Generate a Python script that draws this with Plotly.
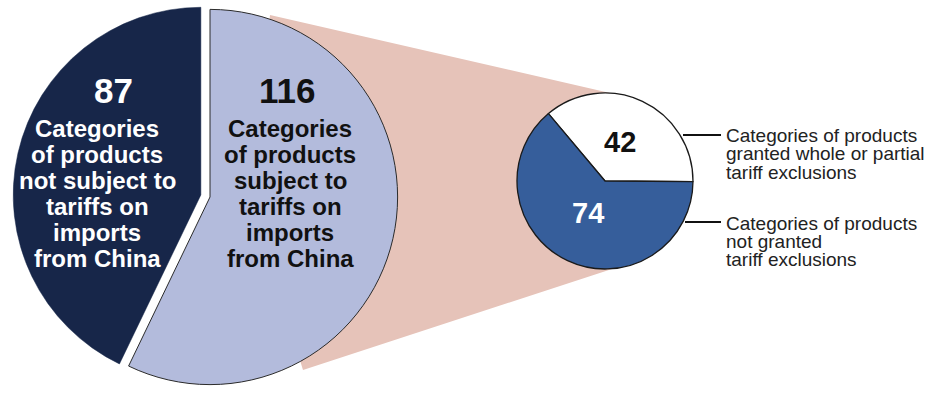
import plotly.graph_objects as go

# ---------------- data ----------------
main_labels = ["Subject to tariffs on imports from China",
               "Not subject to tariffs on imports from China"]
main_values = [116, 87]
main_colors = ["#b3bbdc", "#172649"]

sub_labels = ["Granted whole or partial tariff exclusions",
              "Not granted tariff exclusions"]
sub_values = [42, 74]
sub_colors = ["#ffffff", "#365e9b"]

left_text = ["Categories", "of products", "not subject to", "tariffs on", "imports", "from China"]
right_text = ["Categories", "of products", "subject to", "tariffs on", "imports", "from China"]
label_top = ["Categories of products", "granted whole or partial", "tariff exclusions"]
label_bottom = ["Categories of products", "not granted", "tariff exclusions"]

W, H = 931, 394
FONT = "Arial, Liberation Sans, sans-serif"

fig = go.Figure()

# invisible cartesian frame in pixel units for the decorations
fig.add_trace(go.Scatter(x=[0, W], y=[0, H], mode="markers",
                         marker=dict(opacity=0), hoverinfo="skip", showlegend=False))

# main pie
fig.add_trace(go.Pie(
    labels=main_labels, values=main_values, sort=False,
    direction="clockwise", rotation=0,
    pull=[0, 0.05],
    marker=dict(colors=main_colors, line=dict(color=["#2b2b2b", "#172649"], width=[1, 0.5])),
    textinfo="none", hoverinfo="label+value", showlegend=False,
    domain=dict(x=[13 / W, 407 / W], y=[0, 1]),
))

# sub pie (first slice occupies [rotation, rotation + share] clockwise)
fig.add_trace(go.Pie(
    labels=sub_labels, values=sub_values, sort=False,
    direction="counterclockwise", rotation=-40,
    marker=dict(colors=sub_colors, line=dict(color="#1a1a1a", width=1.3)),
    textinfo="none", hoverinfo="label+value", showlegend=False,
    domain=dict(x=[517 / W, 693 / W], y=[1 - 269 / H, 1 - 93 / H]),
))

shapes = [
    dict(type="path", xref="x", yref="y", layer="below",
         path="M 270 15 L 610 93 L 605 181 L 612 269 L 303 370 L 250 200 Z",
         fillcolor="#e6c3b9", line=dict(width=0)),
    dict(type="line", xref="x", yref="y", x0=683, y0=135, x1=721, y1=135,
         line=dict(color="#111", width=2)),
    dict(type="line", xref="x", yref="y", x0=685, y0=222, x1=721, y1=222,
         line=dict(color="#111", width=2)),
]

ann = []
def add(text, x, y, size, color, bold=True, xanchor="center"):
    ann.append(dict(x=x, y=y, xref="x", yref="y", text=f"<b>{text}</b>" if bold else text,
                    showarrow=False, xanchor=xanchor, yanchor="middle",
                    font=dict(family=FONT, size=size, color=color)))

add(str(main_values[1]), 113, 90, 35, "#ffffff")
add(str(main_values[0]), 287, 90, 35, "#111111")
for i, t in enumerate(left_text):
    add(t, 97, 128 + 26 * i, 24, "#ffffff")
for i, t in enumerate(right_text):
    add(t, 290, 128 + 26 * i, 24, "#111111")

add(str(sub_values[0]), 620, 142, 29, "#111111")
add(str(sub_values[1]), 588, 213, 29, "#ffffff")

for i, t in enumerate(label_top):
    add(t, 724, 135 + 18.5 * i, 19, "#222222", bold=False, xanchor="left")
for i, t in enumerate(label_bottom):
    add(t, 724, 223 + 18 * i, 19, "#222222", bold=False, xanchor="left")

fig.update_layout(
    width=W, height=H, margin=dict(l=0, r=0, t=0, b=0),
    paper_bgcolor="white", plot_bgcolor="white",
    xaxis=dict(range=[0, W], visible=False, fixedrange=True),
    yaxis=dict(range=[H, 0], visible=False, fixedrange=True),
    shapes=shapes, annotations=ann, showlegend=False,
)

fig.write_html("out.html", config=dict(displayModeBar=False),
               post_script="document.body.style.margin='0px';document.body.style.overflow='hidden';")
